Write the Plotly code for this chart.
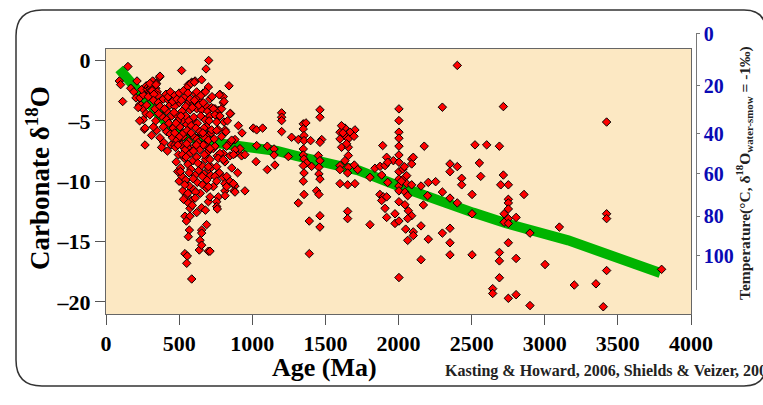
import plotly.graph_objects as go

# ---------------- data ----------------
# (age Ma, carbonate d18O permil) pairs, grouped by age band
pts_0_450 = [
    (91,-1.7),(100,-2.0),(114,-3.4),(150,-0.5),(169,-2.3),(190,-2.6),(205,-3.1),(212,-1.7),
    (228,-3.7),(232,-3.1),(240,-3.7),(251,-4.0),(255,-4.9),(255,-2.85),(262,-5.7),(267,-5.6),
    (267,-7.0),(274,-4.4),(278,-3.7),(230,-5.0),(245,-2.4),(220,-3.9),
    (275,-2.1),(283,-2.4),(290,-2.2),(295,-2.6),(301,-2.3),(301,-2.7),(308,-2.2),(312,-2.9),
    (319,-1.7),(324,-2.4),(330,-2.1),(335,-2.7),(340,-2.3),(345,-1.9),(350,-2.6),(355,-2.9),
    (365,-1.4),(289,-3.0),(300,-1.9),(315,-2.5),(328,-2.8),(342,-2.0),
    (324,-3.3),(358,-3.5),(335,-4.0),(369,-3.8),(369,-1.3),(392,-3.2),(426,-3.3),(438,-3.7),
    (415,-4.2),(312,-6.2),(369,-6.4),(346,-5.8),(324,-5.5),(392,-5.5),(415,-4.9),(449,-4.6),
    (415,-5.9),(380,-4.6),(400,-4.0),(430,-5.2),(360,-4.4),(440,-6.1),(455,-3.0),(460,-5.6),
    (395,-6.8),(340,-5.0),(300,-4.5),(445,-7.0),(420,-7.5),(380,-7.2),
]
pts_450_720 = [
    (517,-0.83),(563,-2.0),(586,-1.8),(609,-1.7),(654,-1.6),(684,-0.7),(702,0.0),(558,-2.2),
    (581,-1.9),(604,-1.8),
    (563,-3.5),(574,-4.1),(593,-4.9),(620,-4.0),(643,-3.4),(654,-4.1),(688,-3.8),(677,-4.9),
    (688,-5.5),(500,-3.5),(520,-4.2),(540,-3.0),(480,-4.5),(470,-3.8),(530,-5.0),(505,-5.5),
    (545,-4.6),(610,-2.8),(630,-3.0),(600,-3.6),(665,-2.7),(700,-2.2),(710,-3.2),
    (410,-2.8),(425,-3.0),(440,-2.6),(455,-3.4),(470,-2.9),(485,-3.2),(500,-2.7),(515,-3.3),
    (530,-2.5),(545,-3.8),(560,-2.7),(575,-3.2),(590,-3.9),(605,-3.3),(620,-2.6),(635,-3.7),
    (650,-2.9),(665,-3.5),(680,-2.6),(695,-4.2),(710,-4.6),(725,-3.0),
    (465,-4.3),(490,-5.0),(512,-4.6),(528,-6.3),(552,-5.3),(566,-5.0),(583,-5.4),(600,-4.7),
    (625,-5.2),(648,-4.6),(670,-5.6),(692,-6.2),(705,-5.0),(455,-6.4),(470,-7.0),(498,-6.7),
    (560,-7.2),(612,-6.4),(655,-7.0),(685,-7.1),
    (470,-6.0),(475,-7.2),(480,-8.4),(485,-6.6),(490,-9.2),(495,-7.8),(500,-10.0),(505,-6.3),
    (510,-8.9),(515,-7.0),(520,-9.6),(525,-10.8),(530,-6.0),(535,-8.1),(540,-7.4),(545,-9.9),
    (550,-11.2),(555,-5.8),(560,-8.6),(565,-6.7),(570,-10.4),(575,-7.7),(580,-9.0),(585,-11.6),
    (590,-6.2),(595,-8.3),(600,-10.7),(605,-7.1),(610,-9.5),(615,-5.6),(620,-8.0),(625,-10.1),
    (630,-6.8),(635,-9.1),(640,-7.4),(645,-11.0),(650,-6.1),(655,-8.7),(660,-10.3),(665,-7.0),
    (670,-9.4),(675,-6.4),(680,-8.2),(690,-9.9),(695,-7.6),(700,-6.6),(705,-8.9),(710,-7.3),
    (715,-9.5),(720,-6.0),
    (478,-5.2),(492,-7.0),(508,-9.2),(522,-7.8),(538,-10.3),(552,-6.9),(568,-9.3),(582,-6.0),
    (598,-7.5),(612,-10.9),(628,-8.5),(642,-5.9),(658,-9.6),(672,-7.8),(688,-10.6),(702,-9.0),
    (548,-8.0),(596,-9.8),(618,-7.0),(662,-6.0),
    (563,-11.8),(574,-12.25),(540,-12.9),(574,-12.9),(688,-13.6),(654,-14.05),(654,-14.3),
    (643,-14.9),(700,-15.8),(638,-15.7),(654,-15.3),(570,-14.05),(563,-14.6),(540,-16.0),
    (556,-16.2),(552,-16.8),(586,-18.1),(700,-11.7),(654,-12.2),(530,-11.5),(590,-12.0),
    (550,-13.3),(610,-11.4),(680,-12.4),(560,-11.0),(620,-12.6),
]
pts_720_1000 = [
    (722,-3.9),(745,-4.0),(768,-4.15),(791,-4.0),(852,-4.4),(768,-4.6),(807,-5.1),(905,-5.4),
    (841,-2.1),(779,-2.8),(802,-3.0),(802,-3.5),(775,-2.85),(807,-3.4),(734,-4.0),(745,-4.5),
    (779,-4.6),(757,-5.1),(848,-4.4),(814,-5.75),(768,-5.75),(722,-5.75),(757,-5.8),(820,-5.9),
    (882,-6.55),(848,-6.8),(916,-7.3),(734,-7.3),(761,-7.9),(802,-7.7),(813,-8.4),(848,-7.9),
    (882,-7.7),(927,-7.9),(950,-7.8),(825,-7.1),(859,-6.6),(882,-7.4),(871,-7.8),(779,-7.7),
    (745,-7.1),(711,-7.3),(768,-8.1),(802,-8.2),(711,-8.2),(722,-8.85),(752,-9.5),(775,-9.3),
    (802,-9.7),(813,-10.2),(848,-10.0),(882,-10.4),(875,-10.8),(950,-10.8),(813,-10.8),
    (700,-8.8),(757,-8.8),(745,-9.6),(825,-9.6),(871,-10.2),(825,-10.45),(757,-10.0),
    (734,-10.45),(700,-10.45),(711,-11.3),(768,-11.3),(814,-11.2),(882,-10.9),(757,-11.7),
    (757,-12.1),(761,-12.3),(711,-15.8),(740,-6.5),(790,-6.3),(830,-5.0),(860,-8.9),
    (900,-9.3),(930,-6.0),
]
pts_1000_1750 = [
    (1007,-5.6),(1030,-5.75),(1071,-5.6),(1201,-4.34),(1201,-4.7),(1201,-4.98),(1201,-5.89),
    (1349,-5.25),(1367,-5.17),(1349,-5.67),(1354,-6.22),(1269,-6.36),(1315,-6.55),(1354,-6.64),
    (1399,-6.64),(1030,-7.05),(1103,-7.1),(1149,-7.33),(1149,-7.83),(1247,-7.96),(1026,-8.38),
    (1155,-8.66),(1103,-9.04),(1349,-7.33),(1349,-7.83),(1354,-8.16),(1372,-8.49),(1406,-8.77),
    (1349,-8.71),(1354,-9.32),(1349,-10.0),(1354,-11.1),(1315,-11.8),(1390,-13.3),(1390,-16.0),
    (1463,-4.09),(1463,-4.7),(1475,-6.55),(1463,-6.78),(1452,-7.88),(1463,-8.3),(1456,-8.85),
    (1456,-9.4),(1463,-9.82),(1440,-10.8),(1456,-11.1),(1463,-12.86),(1463,-13.8),
    (1634,-5.6),(1702,-5.75),(1600,-5.94),(1668,-5.94),(1600,-6.5),(1634,-6.22),(1657,-6.5),
    (1611,-7.19),(1657,-7.19),(1696,-6.28),(1657,-7.88),(1634,-8.3),(1600,-8.71),(1600,-9.04),
    (1657,-8.85),(1698,-8.66),(1721,-9.04),(1652,-9.32),(1600,-10.2),(1652,-10.3),(1702,-10.2),
    (1652,-12.5),(1652,-13.1),(1620,-6.0),(1645,-6.9),(1610,-5.4),
]
pts_1750_2320 = [
    (1805,-13.6),(1892,-7.05),(1839,-8.93),(1874,-8.77),(1908,-8.71),(1919,-8.02),(1965,-8.3),
    (1926,-8.43),(1805,-9.68),(1885,-9.49),(1926,-10.1),(1873,-11.1),(1896,-11.3),(1885,-11.6),
    (1919,-11.3),(1908,-12.25),(1919,-13.0),(1976,-12.7),(1976,-13.5),(2003,-13.3),
    (2003,-4.01),(2003,-4.98),(2003,-5.94),(2003,-6.44),(2003,-7.1),(2003,-7.83),(2003,-8.43),
    (2003,-9.21),(2003,-9.82),(2003,-10.4),(2003,-10.8),(2003,-11.7),(2003,-17.98),
    (2044,-9.68),(2056,-9.54),(2090,-8.16),(2090,-8.57),(2101,-8.02),(2056,-10.2),(2090,-10.3),
    (2044,-10.9),(2063,-11.2),(2044,-11.95),(2067,-12.45),(2090,-12.86),(2063,-13.1),
    (2049,-13.97),(2063,-14.9),(2101,-14.2),(2101,-14.5),(2030,-9.0),(2020,-10.0),(2040,-8.8),
    (2154,-10.4),(2204,-10.1),(2254,-10.04),(2199,-11.2),(2170,-11.97),(2154,-13.7),
    (2204,-14.8),(2154,-16.5),(2176,-7.1),(2300,-3.87),(2300,-10.9),(2300,-14.3),
]
pts_2320_4000 = [
    (2402,-0.41),(2717,-3.82),(2523,-6.99),(2603,-6.99),(2690,-7.1),(2352,-8.57),(2352,-9.21),
    (2402,-8.79),(2553,-8.49),(2562,-9.6),(2432,-9.76),(2432,-10.3),(2352,-11.4),(2402,-11.8),
    (2503,-11.1),(2503,-12.7),(2717,-9.49),(2699,-10.3),(2751,-10.3),(2751,-11.5),(2751,-11.8),
    (2751,-12.3),(2722,-12.7),(2751,-13.1),(2722,-13.4),(2751,-13.5),(2804,-13.0),(2858,-11.1),
    (2899,-14.3),(2352,-13.9),(2352,-15.1),(2352,-16.1),(2503,-16.1),(2751,-15.1),(2690,-15.9),
    (2690,-16.6),(2804,-16.4),(2690,-18.0),(2644,-18.9),(2644,-19.3),(2751,-19.7),(2804,-19.4),
    (2899,-20.3),(3002,-16.9),(3100,-13.8),(3423,-5.1),(3423,-12.7),(3423,-13.1),(3423,-17.4),
    (3799,-17.3),(3202,-18.6),(3350,-18.5),(3400,-20.4),
]

# trend line (green)
trend_age = [90, 270, 480, 730, 940, 1170, 1300, 1440, 1725, 2000, 2300, 2510, 2740, 3160, 3790]
trend_d18o = [-0.7, -3.2, -6.1, -6.8, -7.1, -7.5, -7.9, -8.3, -9.1, -10.4, -11.8, -12.6, -13.5, -14.9, -17.6]

# axis tick labels
x_ticks = [0, 500, 1000, 1500, 2000, 2500, 3000, 3500, 4000]
y_ticks = [0, -5, -10, -15, -20]
y_ticktext = ["0", "–5", "–10", "–15", "–20"]
temp_labels = ["0", "20", "40", "60", "80", "100"]
temp_d18o_pos = [2.22, -2.07, -6.08, -9.4, -12.9, -16.2]

# ---------------- figure ----------------
all_pts = pts_0_450 + pts_450_720 + pts_720_1000 + pts_1000_1750 + pts_1750_2320 + pts_2320_4000
ages = [p[0] for p in all_pts]
d18o = [p[1] for p in all_pts]

W, H = 763, 405
ML, MR, MT, MB = 106, 43, 33, 91
PW, PH = W - ML - MR, H - MT - MB


def fx(px):
    return (px - ML) / PW


def fy(py):
    return (H - MB - py) / PH


SERIF = "Liberation Serif, Times New Roman, serif"

fig = go.Figure()
fig.add_trace(go.Scatter(x=trend_age, y=trend_d18o, mode="lines",
                         line=dict(color="#00b400", width=10), hoverinfo="skip",
                         showlegend=False))
fig.add_trace(go.Scatter(x=ages, y=d18o, mode="markers",
                         marker=dict(symbol="diamond", size=6.5, color="#ff0000",
                                     line=dict(color="#000000", width=1)),
                         showlegend=False))
# dummy trace for the temperature axis
fig.add_trace(go.Scatter(x=[None], y=[None], xaxis="x2", yaxis="y2", showlegend=False))

frame = (f"M {fx(42)},{fy(10)} L {fx(744)},{fy(10)} Q {fx(766)},{fy(10)} {fx(766)},{fy(32)} "
         f"L {fx(766)},{fy(364)} Q {fx(766)},{fy(386)} {fx(744)},{fy(386)} "
         f"L {fx(42)},{fy(386)} Q {fx(16)},{fy(386)} {fx(16)},{fy(360)} "
         f"L {fx(16)},{fy(36)} Q {fx(16)},{fy(10)} {fx(42)},{fy(10)} Z")

fig.update_layout(
    width=W, height=H,
    margin=dict(l=ML, r=MR, t=MT, b=MB, autoexpand=False),
    paper_bgcolor="white",
    plot_bgcolor="rgba(0,0,0,0)",
    showlegend=False,
    xaxis=dict(domain=[0, fx(691)], range=[0, 4000], tickvals=x_ticks,
               ticks="outside", ticklen=10, tickcolor="#555", tickwidth=1,
               showline=True, linecolor="#666", linewidth=1, mirror=True,
               showgrid=False, zeroline=False, anchor="y", automargin=False,
               tickfont=dict(family=SERIF, size=22, color="black", weight="bold")),
    yaxis=dict(domain=[0, fy(49)], range=[-21.0, 0.95], tickvals=y_ticks, ticktext=y_ticktext,
               ticks="outside", ticklen=10, tickcolor="#555", tickwidth=1,
               showline=True, linecolor="#666", linewidth=1, mirror=True,
               showgrid=False, zeroline=False, anchor="x", automargin=False,
               tickfont=dict(family=SERIF, size=22, color="black", weight="bold")),
    xaxis2=dict(domain=[fx(660), fx(695.7)], visible=False, range=[0, 1], automargin=False),
    yaxis2=dict(domain=[fy(290), 1.0], range=[-(290 - 60.7) / 12.05, -(33 - 60.7) / 12.05],
                anchor="x2", side="right", tickvals=temp_d18o_pos, ticktext=temp_labels,
                ticks="outside", ticklen=3, tickcolor="#777", showline=True,
                linecolor="#777", linewidth=1, showgrid=False, zeroline=False,
                automargin=False,
                tickfont=dict(family=SERIF, size=20, color="#0a0ab4", weight="bold")),
    shapes=[
        dict(type="rect", xref="x domain", yref="y domain", x0=0, x1=1, y0=0, y1=1,
             fillcolor="#fce8c3", line=dict(width=0), layer="below"),
        dict(type="path", xref="paper", yref="paper", path=frame,
             line=dict(color="#333", width=1.5), layer="below"),
    ],
    annotations=[
        dict(text="Carbonate δ<sup>18</sup>O", xref="paper", yref="paper",
             x=fx(38), y=fy(178), textangle=-90, showarrow=False,
             xanchor="center", yanchor="middle",
             font=dict(family=SERIF, size=27, color="black", weight="bold")),
        dict(text="Age (Ma)", xref="paper", yref="paper", x=fx(324), y=fy(367),
             showarrow=False, xanchor="center", yanchor="middle",
             font=dict(family=SERIF, size=26, color="black", weight="bold")),
        dict(text="Kasting &amp; Howard, 2006, Shields &amp; Veizer, 2002", xref="paper",
             yref="paper", x=fx(443), y=fy(371), showarrow=False, xanchor="left",
             yanchor="middle",
             font=dict(family=SERIF, size=16, color="#222", weight="bold")),
        dict(text="Temperature(°C, δ<sup>18</sup>O<sub>water-smow</sub> = -1‰)",
             xref="paper", yref="paper", x=fx(744), y=fy(173), textangle=-90,
             showarrow=False, xanchor="center", yanchor="middle",
             font=dict(family=SERIF, size=15.5, color="#222", weight="bold")),
    ],
)

fig.write_html("out.html", config={"displayModeBar": False},
               post_script="document.body.style.margin='0';")
